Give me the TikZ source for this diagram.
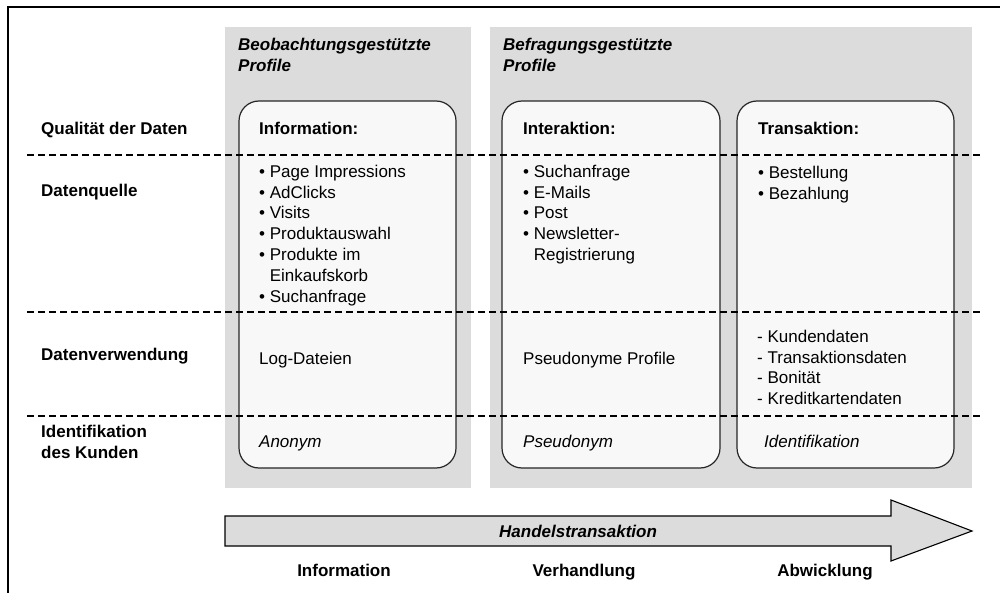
\documentclass[tikz,border=0pt]{standalone}
\usepackage{fontspec}
\setmainfont{Liberation Sans}
\usepackage{xcolor}
\definecolor{panelgray}{RGB}{220,220,220}
\definecolor{boxwhite}{RGB}{248,248,248}
\newcommand{\bodyfont}{\fontsize{17}{20.8}\selectfont}

\begin{document}
\begin{tikzpicture}[x=1pt,y=-1pt,
  txt/.style={anchor=base west,inner sep=0pt,font=\bodyfont},
  block/.style={anchor=north west,inner sep=0pt,align=left,font=\bodyfont},
  rowlabel/.style={txt,font=\bodyfont\bfseries},
  paneltitle/.style={block,font=\bodyfont\bfseries\itshape},
  profilebox/.style={draw=black!85,line width=1.2pt,fill=boxwhite,rounded corners=20pt},
  sepline/.style={dashed,dash pattern=on 7pt off 4pt,line width=1.6pt},
  stage/.style={anchor=base,inner sep=0pt,font=\bodyfont\bfseries}]
  \useasboundingbox (0,0) rectangle (1000,593);
  % Frame
  \draw[line width=1.3pt] (8,593) -- (8,7) -- (1000,7);
  % Gray panels
  \fill[panelgray] (225,27) rectangle (471,488);
  \fill[panelgray] (490,27) rectangle (972,488);
  \node[paneltitle] (beob) at (238,38) {Beobachtungsgestützte\\Profile};
  \node[paneltitle] (befr) at (503,38) {Befragungsgestützte\\Profile};
  % Rounded boxes
  \draw[profilebox] (239,101) rectangle (456,468);
  \draw[profilebox] (502,101) rectangle (720,468);
  \draw[profilebox] (737,101) rectangle (954,468);
  % Dashed separators
  \foreach \y in {155,312,416}
    \draw[sepline] (27,\y) -- (980,\y);
  % Row labels
  \node[rowlabel] (qual) at (41,135) {Qualität der Daten};
  \node[rowlabel] (quelle) at (41,197) {Datenquelle};
  \node[rowlabel] (verw) at (41,360) {Datenverwendung};
  \node[block,font=\bodyfont\bfseries] (ident) at (41,425) {Identifikation\\des Kunden};
  % Column 1: Information
  \node[rowlabel] (info) at (259,135) {Information:};
  \node[block] (infolist) at (259,164.8) {• Page Impressions\\• AdClicks\\• Visits\\• Produktauswahl\\• Produkte im\\\hphantom{• }Einkaufskorb\\• Suchanfrage};
  \node[txt] (logdat) at (259,364) {Log-Dateien};
  \node[txt,font=\bodyfont\itshape] (anon) at (259,447) {Anonym};
  % Column 2: Interaktion
  \node[rowlabel] (inter) at (523,135) {Interaktion:};
  \node[block] (interlist) at (523,164.8) {• Suchanfrage\\• E-Mails\\• Post\\• Newsletter-\\\hphantom{• }Registrierung};
  \node[txt] (pseudoprof) at (523,364) {Pseudonyme Profile};
  \node[txt,font=\bodyfont\itshape] (pseudo) at (523,447) {Pseudonym};
  % Column 3: Transaktion
  \node[rowlabel] (trans) at (758,135) {Transaktion:};
  \node[block] (translist) at (758,165.8) {• Bestellung\\• Bezahlung};
  \node[block] (datlist) at (757,329.8) {- Kundendaten\\- Transaktionsdaten\\- Bonität\\- Kreditkartendaten};
  \node[txt,font=\bodyfont\itshape] (identif) at (764,447) {Identifikation};
  % Arrow
  \draw[fill=panelgray,line width=1.1pt] (225,516) -- (891,516) -- (891,500) -- (972,531)
    -- (891,561) -- (891,546) -- (225,546) -- cycle;
  \node[txt,font=\bodyfont\bfseries\itshape] (handel) at (499,537) {Handelstransaktion};
  \node[stage] (stinfo) at (344,576) {Information};
  \node[stage] (stverh) at (584,576) {Verhandlung};
  \node[stage] (stabw) at (825,576) {Abwicklung};
\end{tikzpicture}
\end{document}
